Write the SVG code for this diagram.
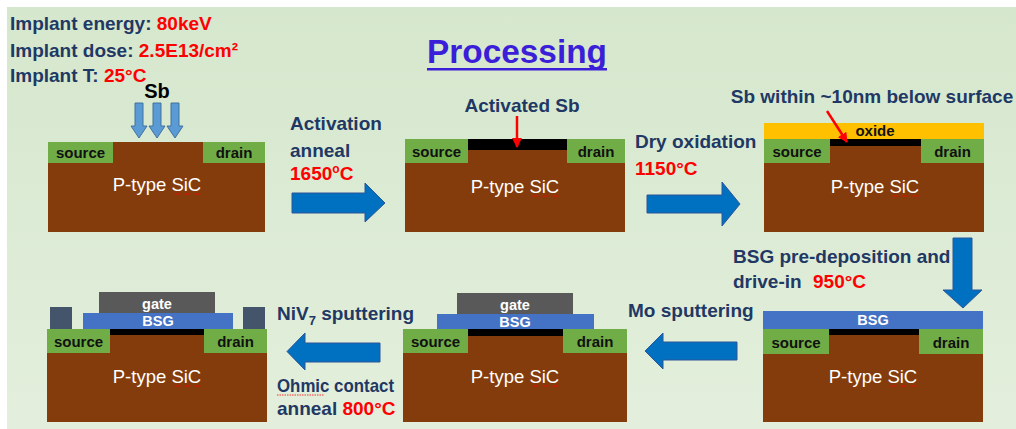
<svg xmlns="http://www.w3.org/2000/svg" width="1016" height="429" viewBox="0 0 1016 429">
  <defs>
    <linearGradient id="bg" x1="0" y1="0" x2="0" y2="1">
      <stop offset="0" stop-color="#d5e7cd"/>
      <stop offset="1" stop-color="#e3efdc"/>
    </linearGradient>
    <marker id="redHead" viewBox="0 0 10 10" refX="9" refY="5" markerWidth="4" markerHeight="4" orient="auto">
      <path d="M0,0 L10,5 L0,10 z" fill="#ff0000"/>
    </marker>
    <style>
      .lbl { font-family: "Liberation Sans", Arial, sans-serif; font-weight: bold; font-size: 19px; fill: #1f3864; }
      .red { fill: #ff0000; }
      .sub { font-family: "Liberation Sans", Arial, sans-serif; fill: #ffffff; font-size: 18.5px; text-anchor: middle; }
      .sd { font-family: "Liberation Sans", Arial, sans-serif; font-weight: bold; font-size: 15px; fill: #111111; text-anchor: middle; }
      .wt { font-family: "Liberation Sans", Arial, sans-serif; font-weight: bold; font-size: 14.5px; fill: #ffffff; text-anchor: middle; }
      .body { fill: #843c0c; }
      .well { fill: #70ad47; }
      .act { fill: #000000; }
      .bsg { fill: #4472c4; }
      .gate { fill: #595959; }
      .contact { fill: #44546a; }
      .oxide { fill: #ffc000; }
      .block { fill: #0070c0; stroke: #2f5597; stroke-width: 1; }
      .implant { fill: #5b9bd5; stroke: #41719c; stroke-width: 1; }
      .squig { fill: none; stroke: #ff0000; stroke-width: 0.8; stroke-dasharray: 1.5 1; }
    </style>
  </defs>

  <!-- slide background -->
  <rect x="0" y="0" width="1016" height="429" fill="#ffffff"/>
  <rect x="7" y="7" width="1009" height="422" fill="url(#bg)"/>

  <!-- implant conditions -->
  <g id="implant-conditions">
    <text class="lbl" x="10" y="30">Implant energy: <tspan class="red">80keV</tspan></text>
    <text class="lbl" x="10" y="57">Implant dose: <tspan class="red">2.5E13/cm²</tspan></text>
    <text class="lbl" x="10" y="82">Implant T: <tspan class="red">25°C</tspan></text>
  </g>

  <!-- title -->
  <g id="title">
    <text x="427" y="63" font-family="'Liberation Sans', Arial, sans-serif" font-weight="bold" font-size="33" fill="#3b1fd8" textLength="180" lengthAdjust="spacingAndGlyphs">Processing</text>
    <rect x="427" y="68" width="180" height="2.5" fill="#3b1fd8"/>
  </g>

  <!-- step 1: Sb implant -->
  <g id="step-implant">
    <rect class="body" x="48" y="142" width="217" height="90"/>
    <rect class="well" x="48" y="142" width="65" height="21"/>
    <rect class="well" x="203" y="142" width="62" height="21"/>
    <text class="sd" x="80.5" y="158">source</text>
    <text class="sd" x="234" y="158">drain</text>
    <text class="sub" x="157" y="191">P-type SiC</text>
    <path class="squig" d="M173,194 L203,194"/>
    <text x="157" y="98" font-family="'Liberation Sans', Arial, sans-serif" font-weight="bold" font-size="20" fill="#000" text-anchor="middle">Sb</text>
    <path class="implant" d="M135,103 h8 v23 h4 l-8,12 l-8,-12 h4 z"/>
    <path class="implant" d="M153,103 h8 v23 h4 l-8,12 l-8,-12 h4 z"/>
    <path class="implant" d="M171,103 h8 v23 h4 l-8,12 l-8,-12 h4 z"/>
  </g>

  <!-- step 2: activated Sb -->
  <g id="step-activated">
    <rect class="body" x="405" y="139" width="220" height="93"/>
    <rect class="well" x="405" y="139" width="63" height="24"/>
    <rect class="well" x="567" y="139" width="58" height="24"/>
    <rect class="act" x="468" y="139" width="99" height="11"/>
    <text class="sd" x="436.5" y="157">source</text>
    <text class="sd" x="596" y="157">drain</text>
    <text class="sub" x="515" y="193">P-type SiC</text>
    <path class="squig" d="M531,196 L561,196"/>
    <text class="lbl" x="522" y="112" text-anchor="middle">Activated Sb</text>
    <line x1="517" y1="116" x2="517" y2="147" stroke="#ff0000" stroke-width="2.5" marker-end="url(#redHead)"/>
  </g>

  <!-- step 3: dry oxidation -->
  <g id="step-oxide">
    <rect class="body" x="764" y="139" width="220" height="93"/>
    <rect class="oxide" x="764" y="123" width="220" height="16"/>
    <rect class="well" x="764" y="139" width="66" height="24"/>
    <rect class="well" x="921" y="139" width="63" height="24"/>
    <rect class="act" x="830" y="139" width="91" height="7"/>
    <text class="sd" x="875" y="136" font-size="15.5">oxide</text>
    <text class="sd" x="797" y="157">source</text>
    <text class="sd" x="952.5" y="157">drain</text>
    <text class="sub" x="875" y="193">P-type SiC</text>
    <path class="squig" d="M891,196 L921,196"/>
    <text class="lbl" x="872" y="103" text-anchor="middle">Sb within ~10nm below surface</text>
    <line x1="827" y1="111" x2="847" y2="142" stroke="#ff0000" stroke-width="2.5" marker-end="url(#redHead)"/>
  </g>

  <!-- step 4: BSG deposition -->
  <g id="step-bsg">
    <rect class="body" x="763" y="311" width="220" height="111"/>
    <rect class="bsg" x="763" y="311" width="220" height="18"/>
    <rect class="well" x="763" y="329" width="66" height="25"/>
    <rect class="well" x="919" y="329" width="64" height="25"/>
    <rect class="act" x="829" y="329" width="90" height="6"/>
    <text class="wt" x="873" y="325">BSG</text>
    <text class="sd" x="796" y="348">source</text>
    <text class="sd" x="951" y="348">drain</text>
    <text class="sub" x="873" y="383">P-type SiC</text>
    <path class="squig" d="M889,386 L919,386"/>
  </g>

  <!-- step 5: Mo gate -->
  <g id="step-gate">
    <rect class="body" x="403" y="329" width="224" height="93"/>
    <rect class="well" x="403" y="329" width="65" height="24"/>
    <rect class="well" x="563" y="329" width="64" height="24"/>
    <rect class="act" x="468" y="329" width="95" height="7"/>
    <rect class="bsg" x="437" y="314" width="157" height="15"/>
    <rect class="gate" x="457" y="293" width="116" height="21"/>
    <text class="wt" x="515" y="310" font-size="15.5">gate</text>
    <text class="wt" x="515" y="327">BSG</text>
    <text class="sd" x="435.5" y="347">source</text>
    <text class="sd" x="595" y="347">drain</text>
    <text class="sub" x="515" y="383">P-type SiC</text>
    <path class="squig" d="M531,386 L561,386"/>
  </g>

  <!-- step 6: NiV contacts -->
  <g id="step-contacts">
    <rect class="body" x="47" y="329" width="220" height="93"/>
    <rect class="well" x="47" y="329" width="63" height="24"/>
    <rect class="well" x="204" y="329" width="63" height="24"/>
    <rect class="act" x="110" y="329" width="94" height="6"/>
    <rect class="bsg" x="83" y="313" width="150" height="16"/>
    <rect class="gate" x="99" y="292" width="116" height="21"/>
    <rect class="contact" x="50" y="307" width="22" height="22"/>
    <rect class="contact" x="243" y="307" width="22" height="22"/>
    <text class="wt" x="157" y="309" font-size="15.5">gate</text>
    <text class="wt" x="158" y="326">BSG</text>
    <text class="sd" x="78.5" y="347">source</text>
    <text class="sd" x="235.5" y="347">drain</text>
    <text class="sub" x="157" y="383">P-type SiC</text>
    <path class="squig" d="M173,386 L203,386"/>
  </g>

  <!-- process-flow arrows and their labels -->
  <g id="connectors">
    <path class="block" d="M292,193 H365 V183 L385,203 L365,222 V213 H292 Z"/>
    <path class="block" d="M647,195 H722 V182 L740,204 L722,226 V213 H647 Z"/>
    <path class="block" d="M953,238 H972 V290 H982 L963,308 L943,290 H953 Z"/>
    <path class="block" d="M737,342 H663 V333 L645,351 L663,369 V360 H737 Z"/>
    <path class="block" d="M380,343 H305 V333 L287,351.5 L305,370 V362 H380 Z"/>

    <text class="lbl" x="290" y="130">Activation</text>
    <text class="lbl" x="290" y="157">anneal</text>
    <text class="lbl red" x="290" y="180">1650<tspan font-size="12" dy="-7">o</tspan><tspan dy="7">C</tspan></text>

    <text class="lbl" x="635" y="148">Dry oxidation</text>
    <text class="lbl red" x="635" y="175">1150°C</text>

    <text class="lbl" x="733" y="263">BSG pre-deposition and</text>
    <text class="lbl" x="733" y="288">drive-in<tspan class="red" x="813">950°C</tspan></text>

    <text class="lbl" x="628" y="317">Mo sputtering</text>

    <text class="lbl" x="277" y="320">NiV<tspan font-size="13" dy="5">7</tspan><tspan dy="-5"> sputtering</tspan></text>
    <text class="lbl" x="277" y="392" textLength="117" lengthAdjust="spacingAndGlyphs">Ohmic contact</text>
    <path class="squig" d="M277,395 L324,395"/>
    <text class="lbl" x="277" y="415">anneal <tspan class="red">800°C</tspan></text>
  </g>
</svg>
